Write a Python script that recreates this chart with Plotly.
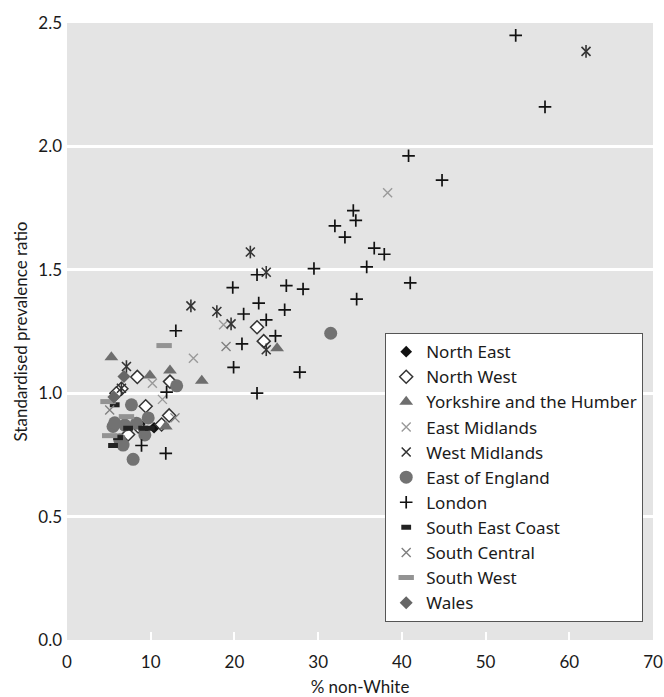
import plotly.graph_objects as go

# ---- data (% non-White, standardised prevalence ratio) ----
ne_x = [8.7, 10.4]
ne_y = [0.875, 0.86]

nw_x = [22.7, 23.5, 8.4, 12.3, 6.5, 5.9, 9.4, 12.2, 8.5, 11.3, 7.3]
nw_y = [1.267, 1.211, 1.066, 1.047, 1.018, 1.0, 0.947, 0.91, 0.865, 0.873, 0.833]

yh_x = [5.3, 9.9, 12.3, 16.1, 25.1, 11.8]
yh_y = [1.146, 1.072, 1.092, 1.050, 1.182, 0.865]

em_x = [38.3, 18.7, 15.1, 10.2, 11.4]
em_y = [1.812, 1.277, 1.142, 1.040, 0.975]

wm_x = [62.0, 21.9, 23.8, 14.8, 17.9, 19.6, 23.8, 7.1, 6.5]
wm_y = [2.385, 1.572, 1.490, 1.354, 1.331, 1.281, 1.176, 1.108, 1.02]

ee_x = [31.5, 13.1, 7.7, 9.7, 5.5, 6.9, 9.3, 6.3, 6.7, 7.9, 8.3, 5.7]
ee_y = [1.243, 1.030, 0.953, 0.900, 0.865, 0.871, 0.831, 0.811, 0.790, 0.732, 0.878, 0.88]

ld_x = [53.6, 57.1, 40.8, 44.8, 34.2, 34.5, 32.0, 33.2, 36.7, 37.9, 35.8, 29.5,
        41.0, 34.6, 28.2, 22.7, 19.8, 26.2, 22.9, 21.1, 26.0, 23.8, 20.9, 24.9,
        19.9, 27.8, 22.7, 13.0, 11.9, 8.9, 11.8]
ld_y = [2.45, 2.16, 1.962, 1.863, 1.740, 1.700, 1.678, 1.632, 1.588, 1.563, 1.512, 1.505,
        1.447, 1.381, 1.422, 1.480, 1.428, 1.436, 1.365, 1.321, 1.338, 1.297, 1.200, 1.232,
        1.105, 1.085, 1.000, 1.253, 1.004, 0.788, 0.756]

sec_x = [7.3, 9.1, 9.9, 6.1, 5.5, 5.7]
sec_y = [0.858, 0.858, 0.858, 0.82, 0.788, 0.953]

sc_x = [19.0, 5.1, 12.9]
sc_y = [1.189, 0.932, 0.90]

sw_x = [11.6, 4.9, 7.1, 5.1]
sw_y = [1.193, 0.966, 0.905, 0.828]

wa_x = [6.8, 5.6]
wa_y = [1.068, 0.985]

FONT = "Lato"

fig = go.Figure()

def add(name, xs, ys, symbol, size, color, line_color=None, line_width=0, showlegend=True, group=None):
    fig.add_trace(go.Scatter(
        x=xs, y=ys, mode="markers", name=name, showlegend=showlegend,
        legendgroup=group or name,
        marker=dict(symbol=symbol, size=size, color=color,
                    line=dict(color=line_color if line_color else color, width=line_width)),
        hoverinfo="x+y+name",
    ))

add("North East", ne_x, ne_y, "diamond", 9, "#111111")
add("North West", nw_x, nw_y, "diamond", 10, "#ffffff", "#333333", 1.5)
add("Yorkshire and the Humber", yh_x, yh_y, "triangle-up", 12, "#6e6e6e")
add("East Midlands", em_x, em_y, "x-thin-open", 9, "#9a9a9a", "#9a9a9a", 1.4)
add("West Midlands", wm_x, wm_y, "x-thin-open", 9, "#333333", "#333333", 1.6)
add("West Midlands", wm_x, wm_y, "line-ns-open", 9, "#333333", "#333333", 1.6,
    showlegend=False, group="West Midlands")
add("East of England", ee_x, ee_y, "circle", 13, "#727272")
add("London", ld_x, ld_y, "cross-thin-open", 9, "#111111", "#111111", 1.7)
add("South East Coast", sec_x, sec_y, "line-ew-open", 7, "#222222", "#222222", 5)
add("South Central", sc_x, sc_y, "x-thin-open", 9, "#808080", "#808080", 1.4)
add("South West", sw_x, sw_y, "line-ew-open", 11, "#939393", "#939393", 5)
add("Wales", wa_x, wa_y, "diamond", 10, "#666666")

fig.update_layout(
    width=664, height=697,
    margin=dict(l=67, r=11, t=23, b=57),
    paper_bgcolor="white",
    plot_bgcolor="#e4e4e4",
    font=dict(family=FONT, size=17, color="#1a1a1a"),
    showlegend=True,
    legend=dict(
        x=0.543, y=0.029, xanchor="left", yanchor="bottom",
        bgcolor="white", bordercolor="#555555", borderwidth=1,
        font=dict(family="Noto Sans", size=17, color="#1a1a1a"),
        itemsizing="trace",
        tracegroupgap=0,
    ),
    xaxis=dict(
        range=[0, 70], tickvals=[0, 10, 20, 30, 40, 50, 60, 70],
        showgrid=False, zeroline=False, showline=False,
        ticks="inside", ticklen=8, tickwidth=2, tickcolor="white",
        ticklabelstandoff=10, automargin=False,
        title=dict(text="% non-White", font=dict(size=17), standoff=10),
        tickfont=dict(size=17),
    ),
    yaxis=dict(
        range=[0, 2.5], tickvals=[0, 0.5, 1.0, 1.5, 2.0, 2.5],
        tickformat=".1f",
        showgrid=True, gridcolor="white", gridwidth=2.5,
        zeroline=False, showline=False, ticks="",
        ticklabelstandoff=4, automargin=False,
        title=dict(text="Standardised prevalence ratio", font=dict(size=17), standoff=6),
        tickfont=dict(size=17),
    ),
)

fig.write_html("out.html")
